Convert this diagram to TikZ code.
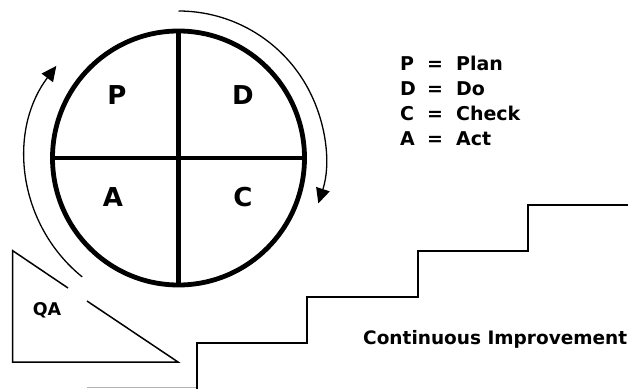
\documentclass[tikz,border=0pt]{standalone}
\usepackage{fontspec}
\setmainfont{DejaVu Sans}
\usepackage{array}
\usetikzlibrary{arrows.meta,shapes.geometric}
\begin{document}
\begin{tikzpicture}[x=1pt,y=1pt,
  heavyline/.style={line width=4.8pt},
  thinline/.style={line width=1.5pt},
  cyclearrow/.style={line width=1.3pt,-{Triangle[length=15pt,width=14pt]}},
  quad/.style={font=\fontsize{26}{30}\selectfont\bfseries,inner sep=0pt},
  label/.style={inner sep=0pt,anchor=base west}
]
\useasboundingbox (0,0) rectangle (628,389);
% PDCA circle
\node[ellipse, draw, line width=4.8pt, minimum width=252pt, minimum height=254pt,
      inner sep=0pt, outer sep=0pt] (cyc) at (178.5,231) {};
\draw[heavyline] (cyc.north) -- (cyc.south);
\draw[heavyline] (cyc.west) -- (cyc.east);
\node[quad] (p) at (117,293.5) {P};
\node[quad] (d) at (243,293.5) {D};
\node[quad] (a) at (113,192) {A};
\node[quad] (c) at (243,192) {C};
% cycle arrows
\draw[cyclearrow] ([shift={(90:147)}]cyc.center) arc[start angle=90,end angle=-18,radius=147];
\draw[cyclearrow] ([shift={(231:153)}]cyc.center) arc[start angle=231,end angle=143,radius=153];
% QA wedge
\coordinate (qt) at (12.7,138.3);
\coordinate (qb) at (12.7,27);
\coordinate (qr) at (178,27);
\coordinate (g1) at (68,101);
\coordinate (g2) at (87,88);
\draw[thinline] (g1) -- (qt) -- (qb) -- (qr) -- (g2);
\node[inner sep=0pt, anchor=base, font=\fontsize{17.5}{20}\selectfont\bfseries] (qa) at (47,74) {QA};
% stairs
\coordinate (s0) at (87,2);
\coordinate (s1) at (197,2);
\coordinate (s1b) at (197,0);
\coordinate (s2) at (197,46);
\coordinate (s3) at (307,46);
\coordinate (s4) at (307,92);
\coordinate (s5) at (418,92);
\coordinate (s6) at (418,138);
\coordinate (s7) at (528,138);
\coordinate (s8) at (528,184);
\coordinate (s9) at (628,184);
\draw[line width=1pt, black!30] (s0) -- (s1);
\draw[thinline] (s1b) -- (s2) -- (s3) -- (s4) -- (s5) -- (s6) -- (s7) -- (s8) -- (s9);
% legend
\node[label, font=\fontsize{19}{25}\selectfont\bfseries] (legend) at (400,318.5)
  {\begin{tabular}[t]{@{}w{l}{16pt}@{\hspace{11pt}}c@{\hspace{13pt}}l@{}}
   P & = & Plan\\
   D & = & Do\\
   C & = & Check\\
   A & = & Act
   \end{tabular}};
\node[label, font=\fontsize{18.5}{22}\selectfont\bfseries] (ci) at (363,45) {Continuous Improvement};
\end{tikzpicture}
\end{document}
